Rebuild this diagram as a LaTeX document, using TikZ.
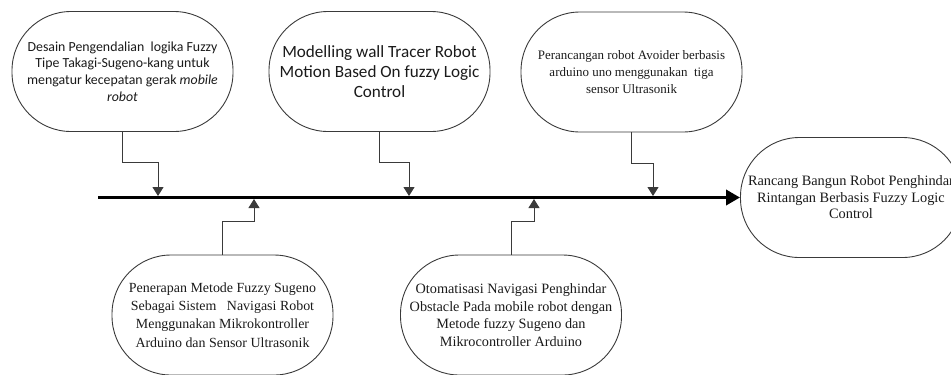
\documentclass[tikz,border=0pt]{standalone}
\usepackage{fontspec}
\setmainfont{Liberation Serif}
\newfontfamily\calfont{Carlito}
\usepackage{tikz}
\usetikzlibrary{arrows.meta,positioning}
\definecolor{rbline}{HTML}{3A3A3A}
\definecolor{rbtext}{HTML}{1A1A1A}

\tikzset{
  paper/.style={draw=rbline,line width=0.9bp,rounded corners=59bp,
    minimum width=221bp,minimum height=120bp,align=center,inner sep=0pt,
    text=rbtext},
  link/.style={draw=rbline,line width=1bp,-{Triangle[length=9bp,width=11bp]}},
  spine/.style={line width=3.4bp,-{Triangle[length=14bp,width=15bp]}}
}

\begin{document}
\begin{tikzpicture}[x=1bp,y=-1bp]
\useasboundingbox (0,0) rectangle (951,374);
\clip (0,0) rectangle (951,374);
% studi terdahulu, atas
\node[paper,font=\calfont\fontsize{13.9}{16.7}\selectfont] (d1) at (122.5,71.5)
  {Desain Pengendalian\ \ logika Fuzzy\\Tipe Takagi-Sugeno-kang untuk\\
   mengatur kecepatan gerak \textit{mobile}\\\textit{robot}};
\node[paper,font=\calfont\fontsize{17.2}{20}\selectfont] (d2) at (379.5,71.5)
  {Modelling wall Tracer Robot\\Motion Based On fuzzy Logic\\Control};
\node[paper,font=\fontsize{13}{17}\selectfont] (d3) at (631.5,72)
  {Perancangan robot Avoider berbasis\\arduino uno menggunakan\ \ tiga\\sensor Ultrasonik};
% studi terdahulu, bawah
\node[paper,font=\fontsize{14}{18.5}\selectfont] (d4) at (222.5,315)
  {Penerapan Metode Fuzzy Sugeno\\Sebagai Sistem\ \ \ Navigasi Robot\\
   Menggunakan Mikrokontroller\\Arduino dan Sensor Ultrasonik};
\node[paper,font=\fontsize{14.3}{17.5}\selectfont] (d5) at (511,315)
  {Otomatisasi Navigasi Penghindar\\Obstacle Pada mobile robot dengan\\
   Metode fuzzy Sugeno dan\\Mikrocontroller Arduino};
% penelitian
\node[paper,font=\fontsize{14.4}{16.5}\selectfont] (goal) at (851,197.5)
  {Rancang Bangun Robot Penghindar\\Rintangan Berbasis Fuzzy Logic\\Control};
% garis utama
\coordinate (start) at (98,197.5);
\draw[spine] (start) -- (goal.west);
\coordinate (t1) at (158,196);
\coordinate (t2) at (409,196);
\coordinate (t3) at (653,196);
\coordinate (b1) at (254,199);
\coordinate (b2) at (534,199);
\draw[link] (d1.south) -- ++(0,31) -| (t1);
\draw[link] (d2.south) -- ++(0,31) -| (t2);
\draw[link] (d3.south) -- ++(0,31) -| (t3);
\draw[link] (d4.north) -- ++(0,-33) -| (b1);
\draw[link] (d5.north) -- ++(0,-33) -| (b2);
\end{tikzpicture}
\end{document}
